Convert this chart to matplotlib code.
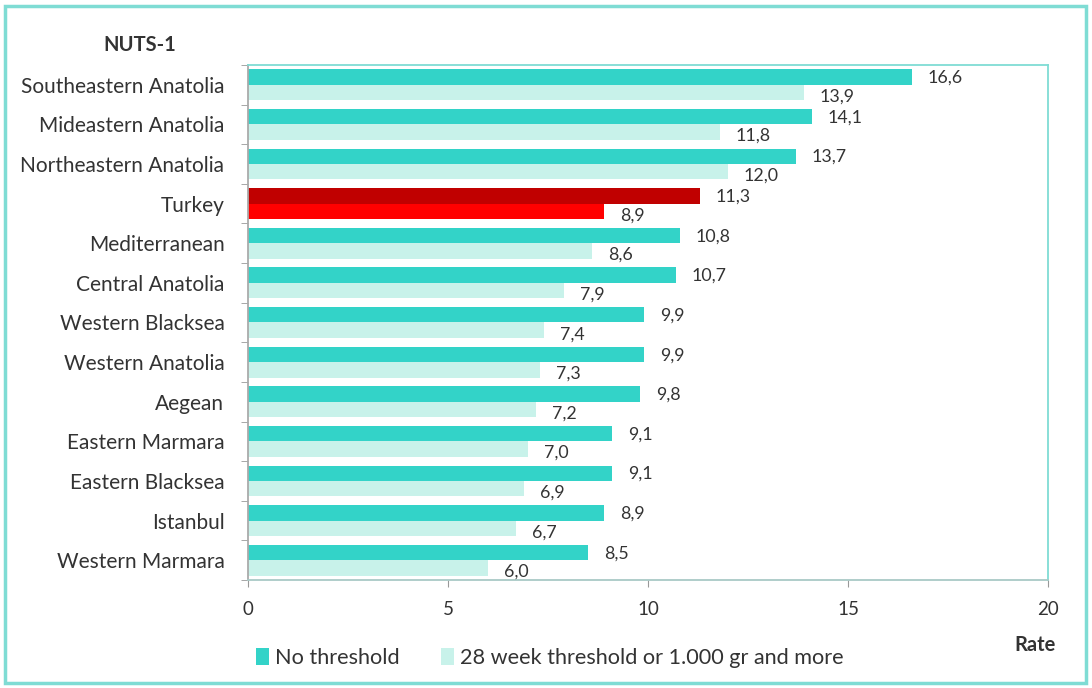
import matplotlib.pyplot as plt
import numpy as np
from matplotlib.patches import Patch, Rectangle

plt.rcParams['font.family'] = ['Lato', 'DejaVu Sans']

regions = [
    "Southeastern Anatolia", "Mideastern Anatolia", "Northeastern Anatolia",
    "Turkey", "Mediterranean", "Central Anatolia", "Western Blacksea",
    "Western Anatolia", "Aegean", "Eastern Marmara", "Eastern Blacksea",
    "Istanbul", "Western Marmara",
]
no_threshold = [16.6, 14.1, 13.7, 11.3, 10.8, 10.7, 9.9, 9.9, 9.8, 9.1, 9.1, 8.9, 8.5]
threshold_28w = [13.9, 11.8, 12.0, 8.9, 8.6, 7.9, 7.4, 7.3, 7.2, 7.0, 6.9, 6.7, 6.0]
series_names = ["No threshold", "28 week threshold or 1.000 gr and more"]

TEAL = "#33D3C8"
MINT = "#C8F2EA"
DARK_RED = "#C00000"
RED = "#FF0000"
TEXT = "#333333"
FRAME = "#7FDCD4"

fig = plt.figure(figsize=(10.92, 6.88), dpi=100)
ax = fig.add_axes([0.2271, 0.157, 0.7326, 0.7485])

y = np.arange(len(regions))
h = 0.39
dark_colors = [DARK_RED if r == "Turkey" else TEAL for r in regions]
light_colors = [RED if r == "Turkey" else MINT for r in regions]

ax.barh(y - h / 2, no_threshold, height=h, color=dark_colors)
ax.barh(y + h / 2, threshold_28w, height=h, color=light_colors)

# value labels: comma decimal separator
for yi, v in zip(y, no_threshold):
    ax.text(v + 0.4, yi - h / 2 + 0.02, f"{v:.1f}".replace(".", ","),
            va="center", ha="left", fontsize=12.8, color=TEXT)
for yi, v in zip(y, threshold_28w):
    ax.text(v + 0.4, yi + h / 2 + 0.1, f"{v:.1f}".replace(".", ","),
            va="center", ha="left", fontsize=12.8, color=TEXT)

ax.set_xlim(0, 20)
ax.set_ylim(len(regions) - 0.5, -0.5)
ax.set_xticks([0, 5, 10, 15, 20])
ax.set_yticks(y)
ax.set_yticklabels(regions)
ax.set_yticks(np.arange(-0.5, len(regions), 1), minor=True)
ax.tick_params(axis="y", which="major", length=0, pad=17, labelsize=15, labelcolor=TEXT)
ax.tick_params(axis="y", which="minor", length=5, color="#999999", direction="out")
ax.tick_params(axis="x", length=5, color="#999999", pad=10, labelsize=13.5, labelcolor=TEXT)

for side, sp in ax.spines.items():
    sp.set_color(FRAME)
    sp.set_linewidth(1.3)
ax.spines["left"].set_color("#aaaaaa")
ax.spines["bottom"].set_color("#a9c9c6")

fig.text(140 / 1092, 1 - 45 / 688, "NUTS-1", fontsize=14.5, fontweight="bold",
         color=TEXT, ha="center", va="center")
fig.text(1035 / 1092, 1 - 645 / 688, "Rate", fontsize=14.5, fontweight="bold",
         color=TEXT, ha="center", va="center")

handles = [Patch(facecolor=TEAL), Patch(facecolor=MINT)]
fig.legend(handles, series_names, loc="center left",
           bbox_to_anchor=(236 / 1092, 1 - 658 / 688), ncol=2, frameon=False,
           fontsize=15.6, handlelength=0.6, handleheight=0.8, handletextpad=0.3,
           columnspacing=1.9, labelcolor=TEXT)

fig.patches.append(Rectangle((5 / 1092, 5 / 688), 1081 / 1092, 677 / 688,
                             transform=fig.transFigure, fill=False,
                             edgecolor=FRAME, linewidth=2.5))

fig.savefig("out.png", dpi=100)
